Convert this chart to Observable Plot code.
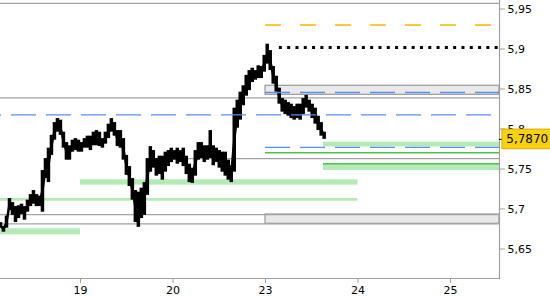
<!DOCTYPE html>
<html><head><meta charset="utf-8">
<script src="https://cdn.jsdelivr.net/npm/d3@7"></script>
<script src="https://cdn.jsdelivr.net/npm/@observablehq/plot@0.6"></script>
<style>body{margin:0;background:#fff;} svg{display:block}</style>
</head><body><div id="chart"></div>
<script>
// x axis: trading-day index (weekend skipped)
const dayTicks = [0, 1, 2, 3, 4];
const dayLabels = ["19", "20", "23", "24", "25"];
const priceTicks = [5.65, 5.7, 5.75, 5.8, 5.85, 5.9, 5.95];
const xMin = -0.865, xMax = 4.53;
const yMin = 5.6131, yMax = 5.9606;

// intraday bars (regular spacing)
const barStart = -0.865, barStep = 0.0324;
const barHigh = [5.683,5.678,5.691,5.713,5.708,5.703,5.704,5.706,5.703,5.711,5.718,5.723,5.718,5.716,5.748,5.763,5.776,5.792,5.808,5.813,5.811,5.796,5.783,5.779,5.786,5.788,5.786,5.783,5.788,5.791,5.791,5.796,5.798,5.796,5.788,5.796,5.806,5.813,5.808,5.798,5.798,5.788,5.767,5.753,5.738,5.723,5.721,5.726,5.733,5.763,5.778,5.773,5.763,5.766,5.766,5.771,5.773,5.776,5.773,5.776,5.773,5.776,5.766,5.756,5.751,5.773,5.783,5.783,5.779,5.779,5.798,5.779,5.776,5.773,5.771,5.771,5.761,5.754,5.826,5.836,5.846,5.854,5.867,5.873,5.876,5.873,5.879,5.878,5.892,5.906,5.898,5.878,5.866,5.851,5.838,5.836,5.833,5.831,5.828,5.831,5.831,5.838,5.842,5.836,5.831,5.826,5.816,5.808,5.796];
const barLow  = [5.676,5.671,5.676,5.698,5.692,5.683,5.688,5.693,5.686,5.696,5.703,5.706,5.703,5.703,5.696,5.738,5.733,5.767,5.786,5.796,5.792,5.776,5.761,5.761,5.771,5.773,5.771,5.771,5.776,5.776,5.773,5.779,5.779,5.778,5.776,5.781,5.788,5.796,5.791,5.778,5.776,5.761,5.742,5.728,5.711,5.683,5.677,5.688,5.692,5.717,5.746,5.751,5.741,5.743,5.736,5.746,5.753,5.758,5.761,5.756,5.758,5.753,5.743,5.733,5.732,5.741,5.761,5.763,5.758,5.761,5.763,5.754,5.758,5.751,5.746,5.741,5.736,5.733,5.746,5.801,5.811,5.829,5.841,5.848,5.858,5.861,5.863,5.863,5.871,5.881,5.873,5.856,5.846,5.831,5.821,5.818,5.816,5.813,5.811,5.813,5.811,5.818,5.826,5.821,5.813,5.806,5.798,5.791,5.787];
const lastPrice = 5.787;
const lastLabel = "5,7870";

// levels
const grayLevels = [5.957, 5.839, 5.693, 5.6815];
const grayShortLevel = 5.763, grayShortFrom = 0.995;
const zoneLow = [5.8427, 5.6815];
const zoneHigh = [5.854, 5.6931];
const zoneFrom = 2.0;
const blueLevels = [5.8456, 5.8177, 5.777];
const blueFrom = [2.0, -0.865, 2.0];
const blueOffset = [0, 24, 0];
const orangeLevel = 5.930, orangeFrom = 2.0;
const dottedLevel = 5.902, dottedFrom = 2.15;
const greenLevel = 5.7702, greenFrom = 2.0;
const bandLow  = [5.7775, 5.7481, 5.7298, 5.7097, 5.6677];
const bandHigh = [5.7835, 5.7565, 5.7365, 5.7131, 5.6752];
const bandFrom = [2.627, 2.627, 0, -0.865, -0.865];
const bandTo   = [4.53, 4.53, 3.0, 3.0, 0];
const bandTopLine = [5.7565, 2.627];

const bars = barHigh.map((h, i) => ({t: barStart + i * barStep, hi: h, lo: barLow[i]}));
const bands = bandLow.map((l, i) => ({y1: l, y2: bandHigh[i], x1: bandFrom[i], x2: bandTo[i]}));
const zones = zoneLow.map((l, i) => ({y1: l, y2: zoneHigh[i]}));
const blues = blueLevels.map((y, i) => ({y, x1: blueFrom[i], off: blueOffset[i]}));
const fmt = d => String(d).replace(".", ",");

const chart = Plot.plot({
  width: 550, height: 300,
  marginLeft: 0, marginRight: 51, marginTop: 0, marginBottom: 22,
  style: {fontFamily: "DejaVu Sans, sans-serif", fontSize: "11px", color: "black", background: "white"},
  x: {domain: [xMin, xMax]},
  y: {domain: [yMin, yMax]},
  marks: [
    Plot.rect(bands, {x1: "x1", x2: "x2", y1: "y1", y2: "y2", fill: "#b4eab4"}),
    Plot.ruleY([bandTopLine[0]], {x1: bandTopLine[1], x2: xMax, stroke: "#4cc24c", strokeWidth: 1.5}),
    Plot.rect(zones, {x1: zoneFrom, x2: xMax, y1: "y1", y2: "y2", fill: "#e9e9e9", stroke: "#9a9a9a", strokeWidth: 1.2}),
    Plot.ruleY(grayLevels, {stroke: "#a3a3a3", strokeWidth: 1.2}),
    Plot.ruleY([grayShortLevel], {x1: grayShortFrom, x2: xMax, stroke: "#a3a3a3", strokeWidth: 1.2}),
    Plot.ruleY([greenLevel], {x1: greenFrom, x2: xMax, stroke: "#4cc24c", strokeWidth: 1.5}),
    Plot.ruleY([orangeLevel], {x1: orangeFrom, x2: xMax, stroke: "#f8b800", strokeWidth: 1.3, strokeDasharray: "16,19"}),
    Plot.ruleY([dottedLevel], {x1: dottedFrom, x2: xMax, stroke: "black", strokeWidth: 3, strokeDasharray: "3,5.3"}),
    Plot.ruleX(bars, {x: "t", y1: "lo", y2: "hi", stroke: "black", strokeWidth: 3.5}),
    Plot.line(bars, {x: "t", y: d => (d.hi + d.lo) / 2, stroke: "black", strokeWidth: 2.5}),
    Plot.ruleY(blues.filter(d => d.off === 0), {y: "y", x1: "x1", x2: xMax, stroke: "#5b8def", strokeWidth: 1.3, strokeDasharray: "25,10"}),
    Plot.ruleY(blues.filter(d => d.off !== 0), {y: "y", x1: "x1", x2: xMax, stroke: "#5b8def", strokeWidth: 1.3, strokeDasharray: "25,10", strokeDashoffset: 24}),
    Plot.frame({anchor: "right", stroke: "#a0a0a0", strokeWidth: 1.2}),
    Plot.frame({anchor: "bottom", stroke: "#a0a0a0", strokeWidth: 1.2}),
    Plot.axisX(dayTicks, {anchor: "bottom", tickSize: 5, tickPadding: 3, stroke: "#a0a0a0", fill: "black", tickFormat: (d) => dayLabels[dayTicks.indexOf(d)], label: null}),
    Plot.axisY(priceTicks, {anchor: "right", tickSize: 5, tickPadding: 3, stroke: "#a0a0a0", fill: "black", tickFormat: fmt, label: null}),
    Plot.ruleY([lastPrice], {x1: xMax, x2: 4.585, stroke: "black", strokeWidth: 1}),
    Plot.rect([lastPrice], {x1: 4.562, x2: 5.09, y1: d => d - 0.0123, y2: d => d + 0.0122, fill: "#fbd30d", stroke: "#d9a800"}),
    Plot.text([lastPrice], {x: 4.83, y: d => d, text: () => lastLabel, fill: "black", fontSize: 12})
  ]
});
document.getElementById("chart").append(chart);
</script>
</body></html>
